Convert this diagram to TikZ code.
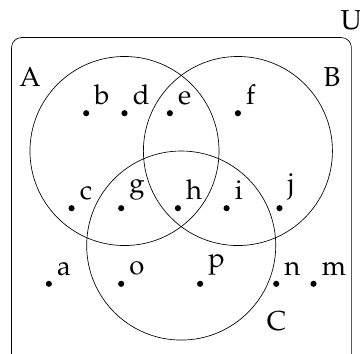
\documentclass[tikz,border=0pt]{standalone}
\usepackage[T1]{fontenc}
\usepackage{mathpazo}

\begin{document}
\begin{tikzpicture}[every node/.style={font=\fontsize{16.5}{19}\selectfont},
  elem/.style={circle, fill=black, inner sep=0pt, minimum size=1.3mm},
  setname/.style={inner sep=0pt}]
  \useasboundingbox (-2.634,-4.274) rectangle (4.983,3.195);
  \clip (-2.634,-4.274) rectangle (4.983,3.195);
  % universe and the three sets
  \draw[rounded corners=6pt] (-2.39,-4.6) rectangle (4.80,2.40);
  \draw (0,0) circle (2);
  \draw (2.4,0) circle (2);
  \draw (1.2,-2) circle (2);
  \node[setname] (U) at (4.80,2.76) {U};
  \node[setname] (A) at (-2.0,1.57) {A};
  \node[setname] (B) at (4.39,1.57) {B};
  \node[setname] (C) at (3.22,-3.61) {C};
  % elements
  \node[elem, label={45:b}] (b) at (-0.81,0.80) {};
  \node[elem, label={45:d}] (d) at (0.0,0.80) {};
  \node[elem, label={45:e}] (e) at (0.96,0.80) {};
  \node[elem, label={45:f}] (f) at (2.40,0.80) {};
  \node[elem, label={45:c}] (c) at (-1.12,-1.21) {};
  \node[elem, label={45:g}] (g) at (-0.07,-1.21) {};
  \node[elem, label={45:h}] (h) at (1.13,-1.21) {};
  \node[elem, label={45:i}] (i) at (2.16,-1.21) {};
  \node[elem, label={45:j}] (j) at (3.28,-1.21) {};
  \node[elem, label={45:a}] (a) at (-1.60,-2.81) {};
  \node[elem, label={45:o}] (o) at (-0.07,-2.81) {};
  \node[elem, label={45:p}] (p) at (1.60,-2.81) {};
  \node[elem, label={45:n}] (n) at (3.21,-2.81) {};
  \node[elem, label={45:m}] (m) at (4.00,-2.81) {};
\end{tikzpicture}
\end{document}
